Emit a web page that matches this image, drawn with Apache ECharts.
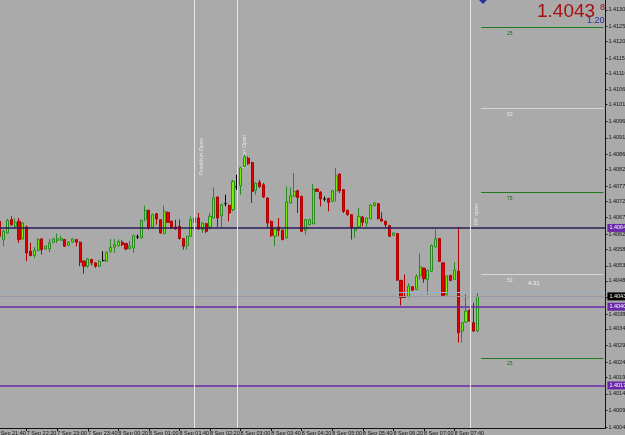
<!DOCTYPE html>
<html>
<head>
<meta charset="utf-8">
<script src="https://cdn.jsdelivr.net/npm/echarts@6/dist/echarts.min.js"></script>
<style>
  html, body { margin: 0; padding: 0; background: #aaaaaa; }
  #chart { width: 625px; height: 435px; }
</style>
</head>
<body>
<div id="chart"></div>
<script>
// EURUSD-ish M5 bars, 7 Sep 21:45 .. 8 Sep 08:10
const opens = [
  1.40664, 1.40609, 1.40629, 1.40669, 1.40649, 1.40664, 1.40611, 1.40647, 1.40574, 1.40561,
  1.40577, 1.40611, 1.40581, 1.40581, 1.40601, 1.40607, 1.40607, 1.40609, 1.40592, 1.40602,
  1.40609, 1.40601, 1.40544, 1.40529, 1.40549, 1.40539, 1.40529, 1.40546, 1.40544, 1.40574,
  1.40586, 1.40591, 1.40601, 1.40597, 1.40582, 1.40584, 1.40617, 1.40614, 1.40671, 1.40697,
  1.40647, 1.40687, 1.40669, 1.40627, 1.40691, 1.40664, 1.40647, 1.40649, 1.40612, 1.40591,
  1.40619, 1.40661, 1.40674, 1.40639, 1.40657, 1.40647, 1.40674, 1.40737, 1.40681, 1.40717,
  1.40712, 1.40699, 1.40768, 1.40771, 1.40829, 1.40854, 1.40841, 1.40757, 1.40781, 1.40774,
  1.40734, 1.40664, 1.40619, 1.40647, 1.40637, 1.40614, 1.40719, 1.40739, 1.40756, 1.40739,
  1.40637, 1.40654, 1.40657, 1.40761, 1.40752, 1.40731, 1.40733, 1.40724, 1.40756, 1.40806,
  1.40759, 1.40697, 1.40684, 1.40637, 1.40647, 1.40677, 1.40659, 1.40672, 1.40711, 1.40717,
  1.40671, 1.40664, 1.40651, 1.40622, 1.40627, 1.40486, 1.40439, 1.40437, 1.40467, 1.40459,
  1.40501, 1.40523, 1.40489, 1.40514, 1.40587, 1.40612, 1.40539, 1.40443, 1.40501, 1.40489,
  1.40514, 1.40334, 1.40361, 1.40397, 1.40359, 1.40334
];
const highs = [
  1.40674, 1.40639, 1.40672, 1.40679, 1.40673, 1.40674, 1.40661, 1.40651, 1.40599, 1.40586,
  1.40614, 1.40613, 1.40591, 1.40611, 1.40613, 1.40627, 1.40621, 1.40611, 1.40604, 1.40613,
  1.40611, 1.40603, 1.40547, 1.40554, 1.40551, 1.40541, 1.40547, 1.40574, 1.40573, 1.40611,
  1.40611, 1.40609, 1.40607, 1.40599, 1.40605, 1.40624, 1.40624, 1.40669, 1.40711, 1.40699,
  1.40687, 1.40689, 1.40671, 1.40711, 1.40693, 1.40666, 1.40669, 1.40669, 1.40614, 1.40621,
  1.40679, 1.40689, 1.40689, 1.40661, 1.40659, 1.40689, 1.40766, 1.40739, 1.40717, 1.40744,
  1.40714, 1.40789, 1.40804, 1.40828, 1.40864, 1.40859, 1.40843, 1.40781, 1.40789, 1.40779,
  1.40736, 1.40666, 1.40644, 1.40674, 1.40639, 1.40769, 1.40766, 1.40809, 1.40759, 1.40741,
  1.40671, 1.40672, 1.40776, 1.40763, 1.40754, 1.40739, 1.40735, 1.40759, 1.40824, 1.40809,
  1.40761, 1.40699, 1.40686, 1.40647, 1.40704, 1.40679, 1.40676, 1.40715, 1.40721, 1.40719,
  1.40691, 1.40666, 1.40653, 1.40631, 1.40629, 1.40488, 1.40504, 1.40477, 1.40469, 1.40504,
  1.40567, 1.40525, 1.40519, 1.40594, 1.40639, 1.40614, 1.40541, 1.40501, 1.40503, 1.40541,
  1.40647, 1.40361, 1.40444, 1.40399, 1.40419, 1.40451
];
const lows = [
  1.40611, 1.40589, 1.40627, 1.40651, 1.40641, 1.40599, 1.40609, 1.40544, 1.40559, 1.40554,
  1.40574, 1.40564, 1.40579, 1.40571, 1.40599, 1.40599, 1.40605, 1.40587, 1.40589, 1.40599,
  1.40589, 1.40529, 1.40507, 1.40524, 1.40531, 1.40524, 1.40526, 1.40543, 1.40542, 1.40569,
  1.40569, 1.40587, 1.40589, 1.40577, 1.40579, 1.40569, 1.40611, 1.40612, 1.40664, 1.40639,
  1.40645, 1.40654, 1.40627, 1.40625, 1.40659, 1.40641, 1.40639, 1.40609, 1.40579, 1.40579,
  1.40617, 1.40659, 1.40639, 1.40629, 1.40629, 1.40639, 1.40672, 1.40647, 1.40644, 1.40709,
  1.40664, 1.40694, 1.40759, 1.40744, 1.40826, 1.40834, 1.40719, 1.40744, 1.40764, 1.40734,
  1.40644, 1.40617, 1.40589, 1.40619, 1.40607, 1.40612, 1.40717, 1.40737, 1.40689, 1.40631,
  1.40624, 1.40651, 1.40655, 1.40752, 1.40709, 1.40724, 1.40694, 1.40721, 1.40724, 1.40749,
  1.40689, 1.40681, 1.40609, 1.40614, 1.40645, 1.40649, 1.40647, 1.40670, 1.40709, 1.40670,
  1.40663, 1.40644, 1.40617, 1.40620, 1.40485, 1.40411, 1.40433, 1.40435, 1.40454, 1.40457,
  1.40489, 1.40479, 1.40444, 1.40512, 1.40585, 1.40542, 1.40439, 1.40441, 1.40484, 1.40487,
  1.40299, 1.40299, 1.40359, 1.40362, 1.40331, 1.40331
];
const closes = [
  1.40619, 1.40634, 1.40667, 1.40654, 1.40661, 1.40609, 1.40659, 1.40569, 1.40561, 1.40577,
  1.40609, 1.40579, 1.40589, 1.40599, 1.40611, 1.40612, 1.40612, 1.40589, 1.40601, 1.40611,
  1.40601, 1.40541, 1.40529, 1.40551, 1.40539, 1.40529, 1.40544, 1.40546, 1.40571, 1.40586,
  1.40594, 1.40603, 1.40594, 1.40581, 1.40589, 1.40621, 1.40617, 1.40667, 1.40697, 1.40644,
  1.40684, 1.40671, 1.40629, 1.40694, 1.40661, 1.40644, 1.40641, 1.40612, 1.40589, 1.40619,
  1.40669, 1.40674, 1.40641, 1.40659, 1.40634, 1.40679, 1.40734, 1.40674, 1.40714, 1.40717,
  1.40689, 1.40784, 1.40768, 1.40825, 1.40859, 1.40837, 1.40754, 1.40779, 1.40769, 1.40737,
  1.40659, 1.40621, 1.40641, 1.40637, 1.40609, 1.40722, 1.40741, 1.40754, 1.40736, 1.40634,
  1.40669, 1.40669, 1.40761, 1.40754, 1.40731, 1.40731, 1.40721, 1.40756, 1.40801, 1.40756,
  1.40694, 1.40684, 1.40644, 1.40644, 1.40679, 1.40661, 1.40674, 1.40713, 1.40719, 1.40672,
  1.40665, 1.40654, 1.40619, 1.40629, 1.40487, 1.40434, 1.40435, 1.40469, 1.40457, 1.40499,
  1.40527, 1.40491, 1.40516, 1.40591, 1.40611, 1.40544, 1.40441, 1.40499, 1.40486, 1.40517,
  1.40329, 1.40359, 1.40394, 1.40364, 1.40334, 1.40438
];

// price scale labels as MT4 prints them
const yTicks = [
  1.40045, 1.40095, 1.40145, 1.40195, 1.40240, 1.40290, 1.40340, 1.40385, 1.40435,
  1.40485, 1.40530, 1.40580, 1.40625, 1.40675, 1.40725, 1.40770, 1.40820, 1.40865,
  1.40915, 1.40965, 1.41015, 1.41060, 1.41110, 1.41155, 1.41205, 1.41250, 1.41300
];

// full width horizontal lines
const levelLines = [1.40644, 1.40407, 1.40170];
const askPrice = 1.40450;
const bidPrice = 1.40438;
// short levels on the right
const pivotLevels = [1.41249, 1.41005, 1.40752, 1.40505, 1.40253];
const pivotNames = ['25', '50', '75', '50', '25'];
// session lines (bar index in categories)
const sessionIdx = [52, 63, 124];
const sessionNames = ['Frankfurt Open', 'London Open', 'NY open'];

const FONT = 'Liberation Sans, Arial, sans-serif';
const MONTHS = ['Jan','Feb','Mar','Apr','May','Jun','Jul','Aug','Sep','Oct','Nov','Dec'];

// category times, 5 minute steps from 7 Sep 21:40
const times = [];
const t0 = Date.UTC(2011, 8, 7, 21, 40);
for (let i = 0; i < 160; i++) {
  const d = new Date(t0 + i * 5 * 60000);
  const hh = String(d.getUTCHours()).padStart(2, '0');
  const mm = String(d.getUTCMinutes()).padStart(2, '0');
  times.push(d.getUTCDate() + ' ' + MONTHS[d.getUTCMonth()] + ' ' + hh + ':' + mm);
}

const candles = opens.map((o, i) => [i + 1, o, closes[i], lows[i], highs[i]]);

// labels only where there are bars
const every8 = (i) => i % 8 === 0 && i <= opens.length;

const tagLabel = (txt, bg) => ({
  show: true, position: 'end', formatter: txt, backgroundColor: bg,
  color: '#fff', fontSize: 5.5, fontFamily: FONT, padding: [1, 2], distance: 2
});

const markData = [];
levelLines.forEach((v, k) => {
  markData.push({
    yAxis: v,
    lineStyle: { color: k === 0 ? '#2a1a55' : '#6a2aa8', width: 1.5, type: 'solid' },
    label: tagLabel(v.toFixed(5), '#6a2aa8')
  });
});
markData.push({
  yAxis: askPrice, lineStyle: { color: '#8fb4d4', width: 1, type: 'solid' },
  label: { show: false }
});
markData.push({
  yAxis: bidPrice, lineStyle: { color: '#9a98a8', width: 1, type: 'solid' },
  label: tagLabel(bidPrice.toFixed(5), '#000')
});
pivotLevels.forEach((v, k) => {
  const green = pivotNames[k] !== '50';
  markData.push([
    { coord: [127, v], lineStyle: { color: green ? '#1f7a1f' : '#d6d6d6', width: 1, type: 'solid' },
      label: { show: false } },
    { coord: [159, v] }
  ]);
});
sessionIdx.forEach((c) => {
  markData.push({ xAxis: c, lineStyle: { color: '#e6e6e6', width: 1, type: 'solid' }, label: { show: false } });
});

const graphics = [
  { type: 'text', left: 537, top: 2, style: { text: '1.4043', fill: '#a51010', font: '19px ' + FONT } },
  { type: 'text', left: 600, top: 3, style: { text: '8', fill: '#a51010', font: '9px ' + FONT } },
  { type: 'text', left: 587, top: 16, style: { text: '1.20', fill: '#2a2f9a', font: '9px ' + FONT } },
  { type: 'polygon', shape: { points: [[483, -4], [487, 0], [483, 4], [479, 0]] }, style: { fill: '#2a2f9a' } },
  { type: 'text', x: 528, y: 280, style: { text: '4.31', fill: '#f2f2f2', font: '6px ' + FONT } }
];
// small names under the right hand levels
const pivotY = [31, 112, 196, 278, 361];
pivotNames.forEach((n, k) => {
  graphics.push({ type: 'text', x: 507, y: pivotY[k], style: { text: n, fill: pivotNames[k] === '50' ? '#e8e8e8' : '#1f6a1f', font: '5px ' + FONT } });
});
// session titles, written up the lines
const sessionTxt = [[198, 175], [241, 168], [473, 225]];
sessionNames.forEach((n, k) => {
  graphics.push({ type: 'text', x: sessionTxt[k][0], y: sessionTxt[k][1], rotation: Math.PI / 2,
    style: { text: n, fill: '#e4e4e4', font: '5.5px ' + FONT } });
});

const chart = echarts.init(document.getElementById('chart'));
chart.setOption({
  backgroundColor: '#aaaaaa',
  animation: false,
  grid: { left: -5.8, right: 19.6, top: 0, bottom: 7, containLabel: false, outerBoundsMode: 'none' },
  xAxis: {
    type: 'category',
    data: times,
    boundaryGap: true,
    axisLine: { show: true, lineStyle: { color: '#111', width: 1 } },
    axisTick: { show: true, alignWithLabel: true, interval: every8, length: 3, lineStyle: { color: '#111' } },
    axisLabel: { interval: every8, align: 'left', fontSize: 5.5, margin: 2, color: '#111', fontFamily: FONT },
    splitLine: { show: false }
  },
  yAxis: {
    type: 'value',
    position: 'right',
    min: 1.40042,
    max: 1.41330,
    axisLine: { show: true, lineStyle: { color: '#111', width: 1 } },
    axisTick: { show: true, length: 2, customValues: yTicks, lineStyle: { color: '#111' } },
    axisLabel: { customValues: yTicks, formatter: (v) => v.toFixed(5), fontSize: 5.5, margin: 3,
      color: '#111', fontFamily: FONT },
    splitLine: { show: false }
  },
  graphic: graphics,
  series: [{
    type: 'candlestick',
    data: candles,
    encode: { x: 0, y: [1, 2, 3, 4] },
    barWidth: 2.6,
    itemStyle: {
      color: '#74f000', borderColor: '#2a8a22',
      color0: '#e40000', borderColor0: '#b00000',
      borderColorDoji: '#000', borderWidth: 1
    }
  }, {
    // holder for the drawn objects (levels, sessions)
    type: 'line',
    data: [],
    silent: true,
    markLine: { symbol: 'none', silent: true, animation: false, precision: 5, data: markData }
  }]
});
</script>
</body>
</html>
